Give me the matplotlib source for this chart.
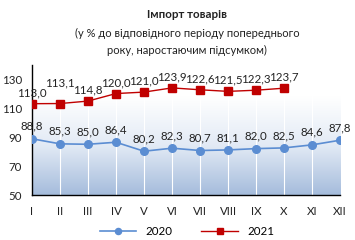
import numpy as np
import matplotlib.pyplot as plt
from matplotlib.colors import LinearSegmentedColormap

plt.rcParams['font.family'] = ['Lato', 'DejaVu Sans']

months = ['I', 'II', 'III', 'IV', 'V', 'VI', 'VII', 'VIII', 'IX', 'X', 'XI', 'XII']
imp_2020 = [88.8, 85.3, 85.0, 86.4, 80.2, 82.3, 80.7, 81.1, 82.0, 82.5, 84.6, 87.8]
imp_2021 = [113.0, 113.1, 114.8, 120.0, 121.0, 123.9, 122.6, 121.5, 122.3, 123.7]

x20 = np.arange(len(imp_2020))
x21 = np.arange(len(imp_2021))

fig = plt.figure(figsize=(3.55, 2.4), dpi=100)
ax = fig.add_axes([0.09, 0.1875, 0.868, 0.5435])

# background gradient (light blue at bottom -> white at top)
cmap = LinearSegmentedColormap.from_list('bg', ['#ffffff', '#e2eaf5', '#a5bcdc'])
grad = np.linspace(1, 0, 256).reshape(-1, 1)
ax.imshow(grad, aspect='auto', cmap=cmap, extent=[0, 11, 50, 118],
          origin='lower', zorder=0)

for xi in x20[1:-1]:
    ax.axvline(xi, color='white', lw=0.8, zorder=1)

ax.plot(x20, imp_2020, color='#5b8dd2', lw=1.2, marker='o', ms=5.5,
        label='2020', zorder=3)
ax.plot(x21, imp_2021, color='#c00000', lw=1.0, marker='s', ms=5.5,
        label='2021', zorder=3)

fmt = lambda v: f'{v:.1f}'.replace('.', ',')
for xi, v in zip(x20, imp_2020):
    ax.annotate(fmt(v), (xi, v), xytext=(0, 5), textcoords='offset points',
                ha='center', va='bottom', fontsize=8.3, color='#222222')
extra = {1: 7}
for xi, v in zip(x21, imp_2021):
    ax.annotate(fmt(v), (xi, v), xytext=(0, 4 + extra.get(xi, 0)),
                textcoords='offset points', ha='center', va='bottom',
                fontsize=8.3, color='#222222')

ax.set_xlim(0, 11)
ax.set_ylim(50, 140)
ax.set_yticks([50, 70, 90, 110, 130])
ax.set_xticks(x20)
ax.set_xticklabels(months)
ax.tick_params(axis='both', length=0, labelsize=8.3, colors='#222222')
ax.tick_params(axis='x', pad=8)
ax.tick_params(axis='y', pad=7)
for s in ['top', 'right']:
    ax.spines[s].set_visible(False)
ax.spines['left'].set_color('black')
ax.spines['bottom'].set_color('black')
ax.spines['left'].set_linewidth(1.0)
ax.spines['bottom'].set_linewidth(1.0)

cx = 0.527
fig.text(cx, 0.94, 'Імпорт товарів', ha='center', va='center',
         fontsize=8.3, fontweight='bold', color='#222222')
fig.text(cx, 0.862, '(у % до відповідного періоду попереднього',
         ha='center', va='center', fontsize=8, color='#222222')
fig.text(cx, 0.79, 'року, наростаючим підсумком)',
         ha='center', va='center', fontsize=8, color='#222222')

fig.legend(loc='center', bbox_to_anchor=(cx, 0.035), ncol=2, frameon=False,
           fontsize=8.3, handlelength=3.2, columnspacing=2.5, markerscale=0.8)

fig.savefig('out.png', dpi=100)
